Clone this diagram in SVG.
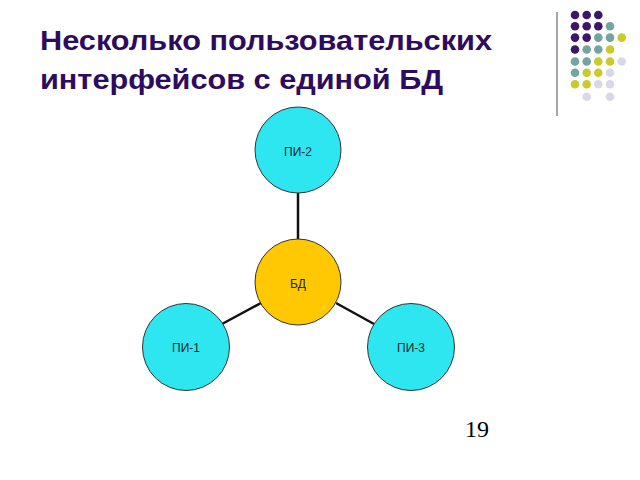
<svg xmlns="http://www.w3.org/2000/svg" width="640" height="480" viewBox="0 0 640 480">
<style>
.title{font-family:"Liberation Sans",Arial,sans-serif;font-weight:bold;font-size:27.5px;fill:#2D0B5E}
.node{stroke:#333;stroke-width:1}
.pi{fill:#2DE6F0}
.db{fill:#FFC800}
.lbl{font-family:"Liberation Sans",Arial,sans-serif;font-size:12px;fill:#222;text-anchor:middle;dominant-baseline:central}
.edge{stroke:#111;stroke-width:2.5}
.p{fill:#3C1768}.t{fill:#72A4A2}.y{fill:#CACA2E}.l{fill:#D8D8EA}
</style>
<rect width="640" height="480" fill="#fff"/>
<g id="decor">
<line x1="557" y1="12" x2="557" y2="116" stroke="#888" stroke-width="1.5"/>
<g>
<circle class="p" cx="575" cy="15" r="4.3"/><circle class="p" cx="586.7" cy="15" r="4.3"/><circle class="p" cx="598.3" cy="15" r="4.3"/>
<circle class="p" cx="575" cy="26.3" r="4.3"/><circle class="p" cx="586.7" cy="26.3" r="4.3"/><circle class="p" cx="598.3" cy="26.3" r="4.3"/><circle class="t" cx="610" cy="26.3" r="4.3"/>
<circle class="p" cx="575" cy="37.6" r="4.3"/><circle class="p" cx="586.7" cy="37.6" r="4.3"/><circle class="t" cx="598.3" cy="37.6" r="4.3"/><circle class="t" cx="610" cy="37.6" r="4.3"/><circle class="y" cx="621.7" cy="37.6" r="4.3"/>
<circle class="p" cx="575" cy="49.5" r="4.3"/><circle class="t" cx="586.7" cy="49.5" r="4.3"/><circle class="t" cx="598.3" cy="49.5" r="4.3"/><circle class="y" cx="610" cy="49.5" r="4.3"/>
<circle class="t" cx="575" cy="61.5" r="4.3"/><circle class="t" cx="586.7" cy="61.5" r="4.3"/><circle class="y" cx="598.3" cy="61.5" r="4.3"/><circle class="y" cx="610" cy="61.5" r="4.3"/><circle class="l" cx="621.7" cy="61.5" r="4.3"/>
<circle class="t" cx="575" cy="72.8" r="4.3"/><circle class="y" cx="586.7" cy="72.8" r="4.3"/><circle class="y" cx="598.3" cy="72.8" r="4.3"/><circle class="l" cx="610" cy="72.8" r="4.3"/>
<circle class="y" cx="575" cy="84.2" r="4.3"/><circle class="y" cx="586.7" cy="84.2" r="4.3"/><circle class="l" cx="598.3" cy="84.2" r="4.3"/><circle class="l" cx="610" cy="84.2" r="4.3"/>
<circle class="l" cx="586.7" cy="96.8" r="4.3"/><circle class="l" cx="610" cy="96.8" r="4.3"/>
</g>
</g>
<g id="title">
<text class="title" x="40" y="50" textLength="452" lengthAdjust="spacingAndGlyphs">Несколько пользовательских</text>
<text class="title" x="40" y="89" textLength="403" lengthAdjust="spacingAndGlyphs">интерфейсов с единой БД</text>
</g>
<g id="connectors">
<line class="edge" x1="298" y1="193" x2="298" y2="239"/>
<line class="edge" x1="261" y1="303" x2="222" y2="324"/>
<line class="edge" x1="336" y1="303" x2="374" y2="324"/>
</g>
<g id="pi2"><circle class="node pi" cx="298" cy="150" r="43"/><text class="lbl" x="298" y="152">ПИ-2</text></g>
<g id="db"><circle class="node db" cx="298" cy="282" r="43"/><text class="lbl" x="298" y="284">БД</text></g>
<g id="pi1"><circle class="node pi" cx="186" cy="347" r="43.5"/><text class="lbl" x="186" y="348">ПИ-1</text></g>
<g id="pi3"><circle class="node pi" cx="411" cy="347" r="43.5"/><text class="lbl" x="411" y="348">ПИ-3</text></g>
<g id="page"><text x="465" y="437" font-family="Liberation Serif,'Times New Roman',serif" font-size="24" fill="#000">19</text></g>
</svg>
